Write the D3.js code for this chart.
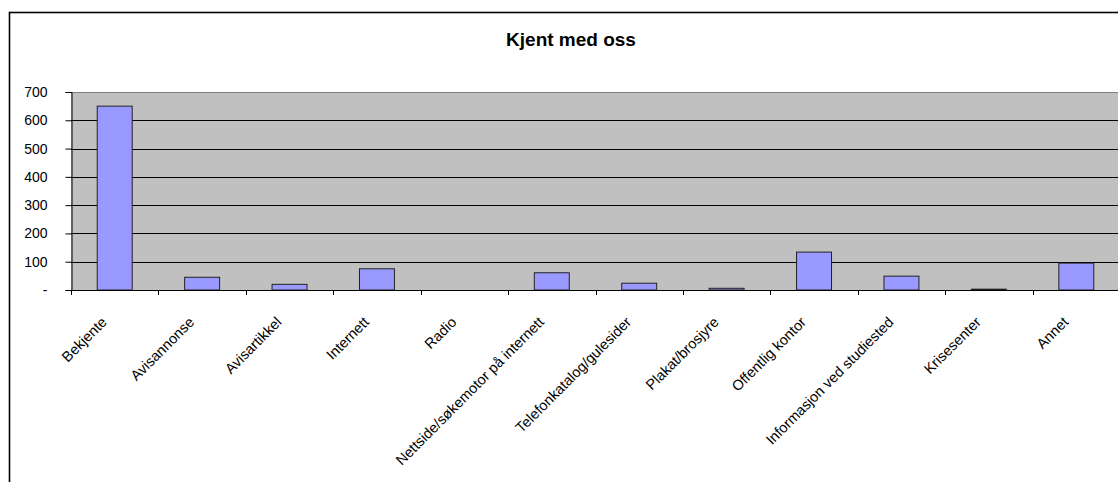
<!DOCTYPE html>
<html>
<head>
<meta charset="utf-8">
<script src="https://cdn.jsdelivr.net/npm/d3@7"></script>
<style>
  body { margin: 0; background: #fff; }
  svg { display: block; font-family: Arial, "Liberation Sans", sans-serif; }
</style>
</head>
<body>
<svg id="chart" width="1118" height="482"></svg>
<script>
// data
var categories = ["Bekjente", "Avisannonse", "Avisartikkel", "Internett", "Radio",
    "Nettside/søkemotor på internett", "Telefonkatalog/gulesider", "Plakat/brosjyre",
    "Offentlig kontor", "Informasjon ved studiested", "Krisesenter", "Annet"];
var counts = [650, 45, 20, 75, 0, 61, 24, 6, 134, 49, 3, 95];
var yTicks = [0, 100, 200, 300, 400, 500, 600, 700];
var title = "Kjent med oss";

var svg = d3.select("#chart");

var plot = {left: 71, top: 92, bottom: 290, right: 1120};

// outer chart frame (runs off the right / bottom of the picture)
svg.append("rect")
    .attr("x", 9.5).attr("y", 12.5)
    .attr("width", 1124).attr("height", 480)
    .attr("fill", "#fff")
    .attr("stroke", "#000")
    .attr("stroke-width", 1.6);

svg.append("text")
    .attr("x", 571).attr("y", 46)
    .attr("text-anchor", "middle")
    .style("font-size", "19px")
    .style("font-weight", "bold")
    .text(title);

var x = d3.scaleBand()
    .domain(categories)
    .range([plot.left, plot.right])
    .paddingInner(0.6)
    .paddingOuter(0.3);

var y = d3.scaleLinear()
    .domain([0, 700])
    .range([plot.bottom, plot.top]);

// grey plot area
svg.append("rect")
    .attr("x", plot.left).attr("y", plot.top)
    .attr("width", plot.right - plot.left)
    .attr("height", plot.bottom - plot.top)
    .attr("fill", "#c0c0c0");

// gridlines
svg.append("g")
    .selectAll("line")
    .data(yTicks.slice(1))
    .enter()
    .append("line")
    .attr("x1", plot.left).attr("x2", plot.right)
    .attr("y1", function (d) { return Math.round(y(d)) + 0.5; })
    .attr("y2", function (d) { return Math.round(y(d)) + 0.5; })
    .attr("stroke", function (d) { return d == 700 ? "#808080" : "#000"; })
    .attr("stroke-width", 1);

// bars
svg.append("g")
    .selectAll("rect")
    .data(counts)
    .enter()
    .append("rect")
    .attr("x", function (d, i) { return x(categories[i]); })
    .attr("y", function (d) { return y(d); })
    .attr("width", x.bandwidth())
    .attr("height", function (d) { return y(0) - y(d); })
    .attr("fill", "#9999ff")
    .attr("stroke", function (d) { return d > 0 ? "#222" : "none"; })
    .attr("stroke-width", 1);

// y axis
var yAxis = d3.axisLeft(y)
    .tickValues(yTicks)
    .tickSize(6)
    .tickPadding(18)
    .tickFormat(function (d) { return d == 0 ? "-" : d; });

svg.append("g")
    .attr("transform", "translate(" + (plot.left + 0.5) + ",0)")
    .call(yAxis)
    .call(function (g) {
        g.select(".domain").attr("stroke", "#000");
        g.selectAll(".tick line").attr("stroke", "#000");
        g.selectAll("text")
            .style("font-size", "14px")
            .style("font-family", "Arial, 'Liberation Sans', sans-serif")
            .attr("fill", "#000");
    });

// x axis line and ticks at band edges
var step = x.step();
svg.append("line")
    .attr("x1", plot.left).attr("x2", plot.right)
    .attr("y1", plot.bottom + 0.5).attr("y2", plot.bottom + 0.5)
    .attr("stroke", "#000");

svg.append("g")
    .selectAll("line")
    .data(d3.range(categories.length + 1))
    .enter()
    .append("line")
    .attr("x1", function (k) { return Math.round(plot.left + k * step) + 0.5; })
    .attr("x2", function (k) { return Math.round(plot.left + k * step) + 0.5; })
    .attr("y1", plot.bottom).attr("y2", plot.bottom + 5)
    .attr("stroke", "#000");

// rotated category labels
svg.append("g")
    .selectAll("text")
    .data(categories)
    .enter()
    .append("text")
    .attr("transform", function (d) {
        var cx = x(d) + x.bandwidth() / 2 - 7;
        return "translate(" + cx + "," + (plot.bottom + 33) + ") rotate(-45)";
    })
    .attr("text-anchor", "end")
    .style("font-size", "14.5px")
    .text(function (d) { return d; });
</script>
</body>
</html>
